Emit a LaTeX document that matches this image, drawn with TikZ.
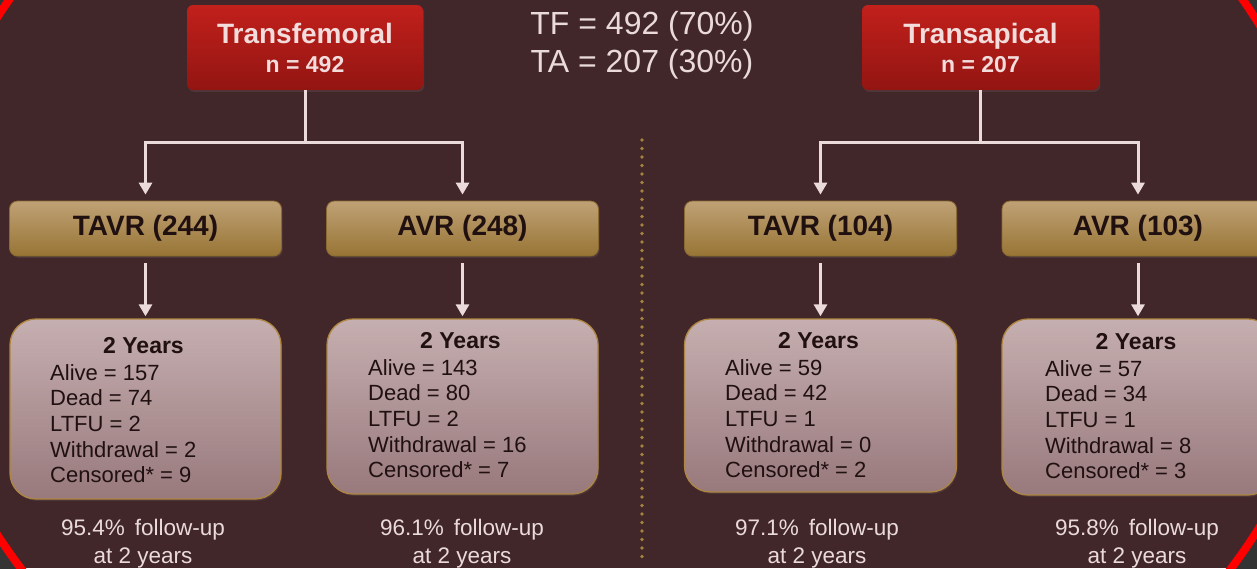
\documentclass[tikz,border=0pt]{standalone}
\usepackage{fontspec}
\setmainfont{Liberation Sans}
\usetikzlibrary{arrows.meta,shadows,calc}
\definecolor{bg}{HTML}{42272A}
\definecolor{outgray}{HTML}{343434}
\definecolor{ringred}{HTML}{FF0000}
\definecolor{redtop}{HTML}{C2201B}
\definecolor{redbot}{HTML}{921512}
\definecolor{redtext}{HTML}{F2DCDC}
\definecolor{tantop}{HTML}{BFA176}
\definecolor{tanbot}{HTML}{987534}
\definecolor{tanedge}{HTML}{8A6A30}
\definecolor{restop}{HTML}{C6AFB0}
\definecolor{resbot}{HTML}{98797C}
\definecolor{resedge}{HTML}{AE8642}
\definecolor{darktext}{HTML}{201010}
\definecolor{lighttext}{HTML}{EADADA}
\definecolor{connc}{HTML}{EBDADA}
\definecolor{dotc}{HTML}{A4823F}
\begin{document}
\begin{tikzpicture}[x=1pt,y=-1pt,
  boxshadow/.style={drop shadow={opacity=0.18,shadow xshift=1.2pt,shadow yshift=-1.8pt}},
  redbox/.style={rounded corners=6pt, top color=redtop, bottom color=redbot, draw=none,
    minimum height=85pt, text=redtext, align=center, inner sep=0pt, boxshadow,
    font=\bfseries\fontsize{28}{29}\selectfont},
  tanbox/.style={rounded corners=8pt, top color=tantop, bottom color=tanbot, draw=tanedge, line width=0.8pt,
    minimum width=272pt, minimum height=55pt, text=darktext, inner sep=0pt, boxshadow,
    font=\bfseries\fontsize{28}{30}\selectfont},
  resbox/.style={rounded corners=26pt, top color=restop, bottom color=resbot, draw=resedge, line width=1.3pt,
    inner sep=0pt, boxshadow},
  yearsty/.style={inner sep=0pt, text=darktext, font=\bfseries\fontsize{23}{25}\selectfont},
  linesty/.style={inner sep=0pt, text=darktext, font=\fontsize{22}{25}\selectfont},
  footsty/.style={inner sep=0pt, text=lighttext, font=\fontsize{22.5}{28}\selectfont},
  titlesty/.style={inner sep=0pt, text=lighttext, align=center, font=\fontsize{32}{38}\selectfont},
  conn/.style={draw=connc, line width=3pt},
  arr/.style={conn, -{Triangle[width=13pt,length=12pt]}},
  divider/.style={draw=dotc, line width=3.8pt, line cap=round, dash pattern=on 0pt off 8.5pt}
]
\useasboundingbox (0,0) rectangle (1257,568);
\begin{scope}
\clip (0,0) rectangle (1257,568);
\fill[bg] (0,0) rectangle (1257,568);
\fill[outgray, even odd rule] (-20,-20) rectangle (1280,590) (626,276) ellipse [x radius=707, y radius=565];
\draw[ringred, line width=8pt] (626,276) ellipse [x radius=707, y radius=565];
\end{scope}

% title
\node[titlesty] (title) at (642,45) {TF = 492 (70\%)\\TA = 207 (30\%)};

% top boxes
\node[redbox, minimum width=236pt] (tf) at (305,47.5) {Transfemoral\\{\fontsize{23}{29}\selectfont n = 492}};
\node[redbox, minimum width=237pt] (ta) at (980.5,47.5) {Transapical\\{\fontsize{23}{29}\selectfont n = 207}};

% divider
\coordinate (dtop) at (642,140);
\coordinate (dbot) at (642,558);
\draw[divider] (dtop) -- (dbot);

% treatment boxes
\node[tanbox] (tftavr) at (145.5,228.5) {TAVR (244)};
\node[tanbox] (tfavr) at (462.5,228.5) {AVR (248)};
\node[tanbox] (tatavr) at (820.5,228.5) {TAVR (104)};
\node[tanbox] (taavr) at (1138,228.5) {AVR (103)};

% splits
\coordinate (tfj) at (305,142);
\coordinate (taj) at (980.5,142);
\draw[conn] (tf.south) -- (tfj);
\draw[arr, shorten >=6pt] (tfj) -| (tftavr.north);
\draw[arr, shorten >=6pt] (tfj) -| (tfavr.north);
\draw[conn] (ta.south) -- (taj);
\draw[arr, shorten >=6pt] (taj) -| (tatavr.north);
\draw[arr, shorten >=6pt] (taj) -| (taavr.north);

% result panels
\foreach \nm/\up/\cx/\bw/\bt/\tx/\yb/\al/\de/\lf/\wi/\ce/\fx/\fu in {
  tfres/tftavr/145.5/271/499/50/380/157/74/2/2/9/143/95.4,
  tfares/tfavr/462.5/271/494/368/375/143/80/2/16/7/462/96.1,
  tares/tatavr/820.5/272/492/725/375/59/42/1/0/2/817/97.1,
  taares/taavr/1138/272/495/1045/376/57/34/1/8/3/1137/95.8}{
  \node[resbox, minimum width=\bw pt, minimum height={(\bt-319)*1pt}] (\nm) at (\cx,{(319+\bt)/2}) {};
  \draw[arr, shorten <=7pt, shorten >=2pt] (\up.south) -- (\nm.north);
  \node[yearsty, anchor=base] (\nm-y) at ({\cx-2},{\yb-27}) {2 Years};
  \node[linesty, anchor=base west] (\nm-a) at (\tx,\yb) {Alive = \al};
  \node[linesty, anchor=base west] (\nm-d) at (\tx,{\yb+25.7}) {Dead = \de};
  \node[linesty, anchor=base west] (\nm-l) at (\tx,{\yb+51.4}) {LTFU = \lf};
  \node[linesty, anchor=base west] (\nm-w) at (\tx,{\yb+77.1}) {Withdrawal = \wi};
  \node[linesty, anchor=base west] (\nm-c) at (\tx,{\yb+102.8}) {Censored* = \ce};
  \node[footsty, anchor=base] (\nm-f) at (\fx,535) {\fu\%\hspace{0.45em}follow-up};
  \node[footsty, anchor=base] (\nm-g) at (\fx,563) {at 2 years};
}
\end{tikzpicture}
\end{document}
